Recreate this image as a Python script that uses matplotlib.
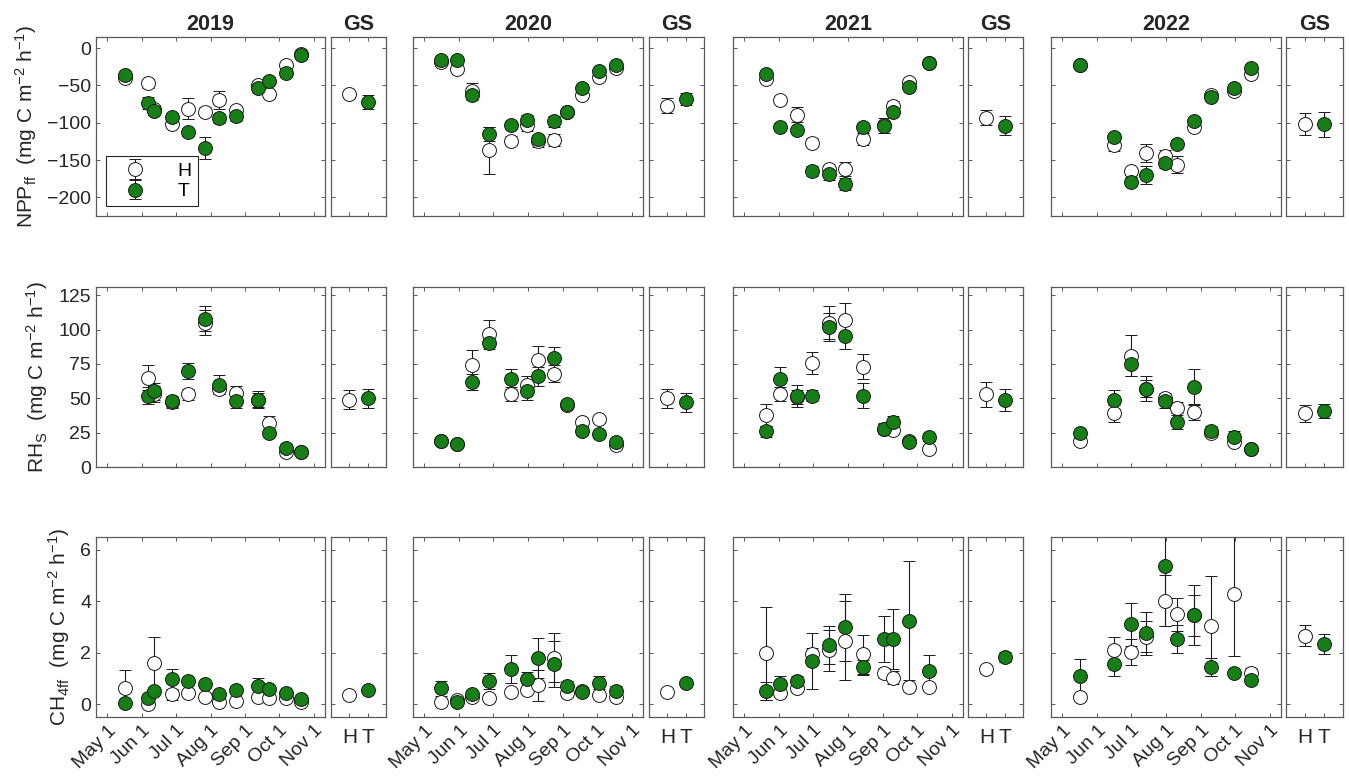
import matplotlib
matplotlib.use("Agg")
import matplotlib.pyplot as plt
import numpy as np
import pandas as pd

plt.rcParams["font.family"] = ["Liberation Sans", "DejaVu Sans"]
plt.rcParams["mathtext.default"] = "regular"

YEARS = ["2019", "2020", "2021", "2022"]

# sampling dates (month-day) per year
DATES = [
    ["05-17", "06-06", "06-12", "06-28", "07-12", "07-27", "08-09", "08-24", "09-12", "09-22", "10-07", "10-21"],
    ["05-16", "05-30", "06-12", "06-27", "07-17", "07-31", "08-10", "08-24", "09-05", "09-18", "10-03", "10-18"],
    ["05-20", "06-02", "06-17", "06-30", "07-15", "07-29", "08-14", "09-02", "09-10", "09-24", "10-12"],
    ["05-17", "06-16", "07-01", "07-14", "07-31", "08-11", "08-26", "09-10", "09-30", "10-15"],
]

# NPP_ff (mg C m-2 h-1)
npp_h = [
    [-40, -47, -82, -101, -81, -85, -70, -83, -49, -62, -23, -8],
    [-18, -28, -57, -137, -124, -103, -125, -123, -86, -63, -39, -27],
    [-41, -69, -89, -127, -162, -162, -122, -103, -77, -45, -20],
    [-23, -130, -165, -140, -145, -156, -105, -63, -57, -35],
]
npp_h_err = [
    [4, 6, 4, 5, 14, 6, 12, 6, 5, 5, 4, 3],
    [3, 4, 10, 32, 6, 8, 7, 8, 4, 5, 5, 4],
    [5, 4, 10, 6, 6, 10, 8, 6, 6, 4, 3],
    [3, 8, 5, 12, 8, 12, 5, 4, 5, 5],
]
npp_t = [
    [-36, -74, -84, -92, -113, -134, -94, -91, -53, -44, -33, -9],
    [-16, -16, -63, -115, -103, -96, -122, -98, -86, -54, -30, -22],
    [-34, -105, -110, -165, -169, -182, -105, -104, -85, -52, -20],
    [-23, -119, -179, -170, -154, -128, -97, -66, -53, -26],
]
npp_t_err = [
    [4, 8, 5, 5, 5, 15, 6, 6, 6, 5, 5, 3],
    [3, 3, 6, 10, 5, 6, 5, 7, 4, 4, 4, 4],
    [4, 5, 4, 7, 8, 8, 5, 10, 5, 3, 3],
    [3, 5, 6, 12, 7, 4, 5, 4, 4, 4],
]
npp_gs_h = [-62, -77, -93, -102]
npp_gs_h_err = [5, 10, 10, 15]
npp_gs_t = [-72, -68, -104, -102]
npp_gs_t_err = [9, 8, 13, 17]

# RH_s (mg C m-2 h-1)
rh_h = [
    [np.nan, 65, 53, 47, 53, 105, 57, 54, 49, 32, 11, 11],
    [19, 17, 74, 97, 53, 60, 78, 68, 45, 33, 35, 16],
    [38, 53, 51, 76, 105, 107, 73, 28, 27, 19, 13],
    [19, 39, 81, 57, 50, 43, 40, 25, 18, 13],
]
rh_h_err = [
    [np.nan, 9, 6, 4, 4, 9, 4, 5, 5, 5, 3, 3],
    [2, 2, 11, 10, 5, 6, 10, 6, 3, 3, 3, 2],
    [8, 5, 5, 8, 12, 12, 9, 3, 3, 2, 2],
    [3, 6, 15, 6, 4, 4, 6, 3, 3, 2],
]
rh_t = [
    [np.nan, 52, 55, 48, 70, 108, 60, 48, 49, 25, 14, 11],
    [19, 17, 62, 90, 64, 55, 66, 79, 46, 26, 24, 18],
    [26, 64, 52, 52, 102, 95, 52, 28, 33, 18, 22],
    [25, 49, 75, 57, 48, 33, 58, 26, 22, 13],
]
rh_t_err = [
    [np.nan, 6, 6, 4, 6, 9, 7, 5, 6, 3, 3, 3],
    [2, 2, 6, 4, 7, 6, 7, 8, 3, 3, 3, 3],
    [4, 9, 8, 4, 10, 9, 9, 4, 4, 3, 3],
    [3, 7, 9, 9, 5, 5, 13, 4, 4, 2],
]
rh_gs_h = [49, 50, 53, 39]
rh_gs_h_err = [7, 7, 9, 6]
rh_gs_t = [50, 47, 49, 41]
rh_gs_t_err = [7, 7, 8, 5]

# CH4_ff (mg C m-2 h-1)
ch4_h = [
    [0.61, 0.0, 1.61, 0.38, 0.42, 0.29, 0.09, 0.13, 0.26, 0.22, 0.22, 0.09],
    [0.09, 0.16, 0.29, 0.25, 0.48, 0.55, 0.74, 1.80, 0.42, 0.50, 0.35, 0.29],
    [1.97, 0.42, 0.61, 1.95, 2.10, 2.47, 1.94, 1.22, 1.03, 0.68, 0.68],
    [0.29, 2.10, 2.04, 2.62, 4.03, 3.49, 3.45, 3.05, 4.29, 1.22],
]
ch4_h_err = [
    [0.7, 0.1, 1.0, 0.2, 0.15, 0.15, 0.1, 0.1, 0.15, 0.1, 0.1, 0.05],
    [0.15, 0.1, 0.1, 0.15, 0.1, 0.1, 0.6, 0.95, 0.15, 0.1, 0.1, 0.1],
    [1.8, 0.1, 0.15, 0.25, 0.8, 1.55, 0.75, 0.2, 0.25, 0.15, 0.1],
    [0.1, 0.5, 0.5, 0.6, 1.0, 0.65, 0.8, 1.95, 2.4, 0.2],
]
ch4_t = [
    [0.05, 0.22, 0.52, 0.96, 0.90, 0.78, 0.39, 0.55, 0.71, 0.58, 0.42, 0.19],
    [0.61, 0.09, 0.38, 0.90, 1.36, 0.96, 1.78, 1.55, 0.71, 0.48, 0.83, 0.52],
    [0.52, 0.80, 0.90, 1.68, 2.30, 2.99, 1.43, 2.53, 2.52, 3.25, 1.30],
    [1.10, 1.55, 3.10, 2.75, 5.38, 2.53, 3.47, 1.43, 1.22, 0.94],
]
ch4_t_err = [
    [0.1, 0.1, 0.1, 0.4, 0.1, 0.1, 0.1, 0.1, 0.3, 0.1, 0.1, 0.1],
    [0.3, 0.1, 0.1, 0.3, 0.55, 0.3, 0.78, 0.9, 0.2, 0.1, 0.25, 0.2],
    [0.35, 0.3, 0.2, 1.1, 0.75, 1.3, 0.3, 0.9, 1.17, 2.3, 0.6],
    [0.65, 0.45, 0.85, 0.85, 2.35, 0.53, 1.17, 0.35, 0.1, 0.1],
]
ch4_gs_h = [0.35, 0.48, 1.35, 2.66]
ch4_gs_h_err = [0.1, 0.1, 0.12, 0.4]
ch4_gs_t = [0.55, 0.84, 1.84, 2.34]
ch4_gs_t_err = [0.12, 0.1, 0.2, 0.4]

MONTH_TICKS = ["05-01", "06-01", "07-01", "08-01", "09-01", "10-01", "11-01"]
MONTH_LABELS = ["May 1", "Jun 1", "Jul 1", "Aug 1", "Sep 1", "Oct 1", "Nov 1"]
GS_LABELS = ["H", "T"]

GREEN = "#168016"
EDGE = "#5a5a5a"
TXT = "#262626"


def doy(md):
    return pd.to_datetime(["2019-" + d for d in md]).dayofyear.to_numpy(dtype=float)


rows = [
    dict(h=npp_h, he=npp_h_err, t=npp_t, te=npp_t_err,
         gh=npp_gs_h, ghe=npp_gs_h_err, gt=npp_gs_t, gte=npp_gs_t_err,
         ylim=(-225, 15), yticks=[-200, -150, -100, -50, 0],
         ylabel="NPP$_{ff}$  (mg C m$^{-2}$ h$^{-1}$)"),
    dict(h=rh_h, he=rh_h_err, t=rh_t, te=rh_t_err,
         gh=rh_gs_h, ghe=rh_gs_h_err, gt=rh_gs_t, gte=rh_gs_t_err,
         ylim=(0, 131), yticks=[0, 25, 50, 75, 100, 125],
         ylabel="RH$_{S}$  (mg C m$^{-2}$ h$^{-1}$)"),
    dict(h=ch4_h, he=ch4_h_err, t=ch4_t, te=ch4_t_err,
         gh=ch4_gs_h, ghe=ch4_gs_h_err, gt=ch4_gs_t, gte=ch4_gs_t_err,
         ylim=(-0.5, 6.5), yticks=[0, 2, 4, 6],
         ylabel="CH$_{4ff}$  (mg C m$^{-2}$ h$^{-1}$)"),
]

W, H = 1349, 780
ROW_Y = [(37, 216), (287, 467), (537, 717)]
YEAR_X = [(96, 325), (413, 643), (733, 963), (1051, 1281)]
GS_X = [(331, 386), (649, 704), (968, 1023), (1286, 1343)]

fig = plt.figure(figsize=(W / 100, H / 100), dpi=100)


def px_axes(x0, x1, y0, y1):
    return fig.add_axes([x0 / W, 1 - y1 / H, (x1 - x0) / W, (y1 - y0) / H])


def style(ax):
    for sp in ax.spines.values():
        sp.set_color(EDGE)
        sp.set_linewidth(0.9)
    ax.tick_params(direction="in", length=3, width=0.7, color=EDGE,
                   top=True, right=True, labelsize=14, labelcolor=TXT)


def draw(ax, x, y, e, face, label=None):
    ax.errorbar(x, y, yerr=e, fmt="o", ms=10, mfc=face, mec="#1a1a1a", mew=0.7,
                ecolor="#1a1a1a", elinewidth=0.8, capsize=4.5, capthick=0.8,
                label=label)


xticks = doy(MONTH_TICKS)
for r, row in enumerate(rows):
    y0, y1 = ROW_Y[r]
    for c in range(4):
        ax = px_axes(*YEAR_X[c], y0, y1)
        x = doy(DATES[c])
        draw(ax, x, np.array(row["h"][c], float), np.array(row["he"][c], float), "white", "H")
        draw(ax, x, np.array(row["t"][c], float), np.array(row["te"][c], float), GREEN, "T")
        ax.set_xlim(xticks[0] - 10, xticks[-1] + 10)
        ax.set_ylim(*row["ylim"])
        ax.set_xticks(xticks)
        ax.set_yticks(row["yticks"])
        style(ax)
        if r == 2:
            ax.set_xticklabels(MONTH_LABELS, rotation=45, ha="right", rotation_mode="anchor")
        else:
            ax.set_xticklabels([])
        if c == 0:
            ax.set_ylabel(row["ylabel"], fontsize=15, color=TXT, labelpad=6)
        else:
            ax.set_yticklabels([])
        if r == 0:
            ax.set_title(YEARS[c], fontsize=15.5, fontweight="bold", color=TXT, pad=5)
        if r == 0 and c == 0:
            leg = ax.legend(loc="lower left", fontsize=14, frameon=True, fancybox=False,
                            edgecolor=TXT, framealpha=1, handlelength=2.4,
                            handletextpad=1.0, borderpad=0.3, labelspacing=0.15,
                            borderaxespad=0.5)
            leg.get_frame().set_linewidth(0.8)

        gx = px_axes(*GS_X[c], y0, y1)
        draw(gx, [1], [row["gh"][c]], [row["ghe"][c]], "white")
        draw(gx, [2], [row["gt"][c]], [row["gte"][c]], GREEN)
        gx.set_xlim(0, 3)
        gx.set_ylim(*row["ylim"])
        gx.set_xticks([1, 2])
        gx.set_yticks(row["yticks"])
        gx.set_yticklabels([])
        style(gx)
        if r == 2:
            gx.set_xticklabels(GS_LABELS, fontsize=15)
            gx.tick_params(axis="x", pad=8)
        else:
            gx.set_xticklabels([])
        if r == 0:
            gx.set_title("GS", fontsize=15.5, fontweight="bold", color=TXT, pad=5)

fig.savefig("out.png", dpi=100)
